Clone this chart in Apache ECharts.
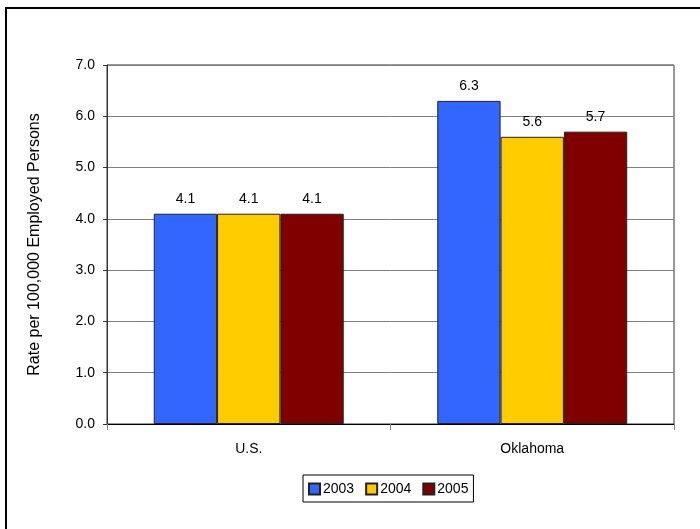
<!DOCTYPE html>
<html>
<head>
<meta charset="utf-8">
<script src="https://cdn.jsdelivr.net/npm/echarts@6/dist/echarts.min.js"></script>
<style>
  html, body { margin: 0; padding: 0; background: #fff; }
  #chart { width: 700px; height: 529px; }
</style>
</head>
<body>
<div id="chart"></div>
<script>
// Fatal occupational injury rates by area and year
const categories = ['U.S.', 'Oklahoma'];
const years = ['2003', '2004', '2005'];
const rate2003 = [4.1, 6.3];
const rate2004 = [4.1, 5.6];
const rate2005 = [4.1, 5.7];
const yTicks = [0, 1, 2, 3, 4, 5, 6, 7];

const colors = ['#3366FF', '#FFCC00', '#800000'];
const seriesValues = [rate2003, rate2004, rate2005];
const font = 'Liberation Sans, Arial, sans-serif';

const chart = echarts.init(document.getElementById('chart'), null, { renderer: 'canvas' });

chart.setOption({
  animation: false,
  backgroundColor: '#fff',
  textStyle: { fontFamily: font },
  graphic: [{
    type: 'rect',
    shape: { x: 6, y: 8, width: 720, height: 540 },
    style: { fill: 'none', stroke: '#000', lineWidth: 2 },
    silent: true,
    z: -1
  }],
  grid: {
    left: 107, right: 26, top: 65, bottom: 105,
    show: true, borderColor: '#333', borderWidth: 1, backgroundColor: '#fff'
  },
  legend: {
    data: years,
    left: 303, top: 475,
    itemWidth: 11, itemHeight: 11, itemGap: 11,
    borderColor: '#000', borderWidth: 1,
    padding: [7, 5, 6, 5],
    textStyle: { fontFamily: font, fontSize: 14, color: '#000', padding: [0, 0, 0, -2] },
    icon: 'rect'
  },
  xAxis: {
    type: 'category',
    data: categories,
    axisLine: { lineStyle: { color: '#000', width: 1 } },
    axisTick: { show: true, length: 6, lineStyle: { color: '#888' } },
    axisLabel: { color: '#000', fontSize: 14, fontFamily: font, margin: 18 }
  },
  yAxis: {
    type: 'value',
    min: yTicks[0], max: yTicks[yTicks.length - 1], interval: 1,
    name: 'Rate per 100,000 Employed Persons',
    nameLocation: 'middle',
    nameGap: 64,
    nameTextStyle: { color: '#000', fontSize: 16, fontFamily: font },
    axisLine: { show: true, lineStyle: { color: '#333' } },
    axisTick: { show: true, length: 4, lineStyle: { color: '#333' } },
    axisLabel: { color: '#000', fontSize: 14, fontFamily: font, margin: 12,
      formatter: v => v.toFixed(1) },
    splitLine: { lineStyle: { color: '#808080', width: 1 } }
  },
  series: years.map((y, i) => ({
    name: y,
    type: 'bar',
    data: seriesValues[i],
    barGap: '0%',
    barCategoryGap: '33%',
    itemStyle: { color: colors[i], borderColor: '#222', borderWidth: 1 },
    label: {
      show: true, position: 'top', distance: 8,
      color: '#000', fontSize: 14, fontFamily: font,
      formatter: p => p.value.toFixed(1)
    }
  }))
});
</script>
</body>
</html>
